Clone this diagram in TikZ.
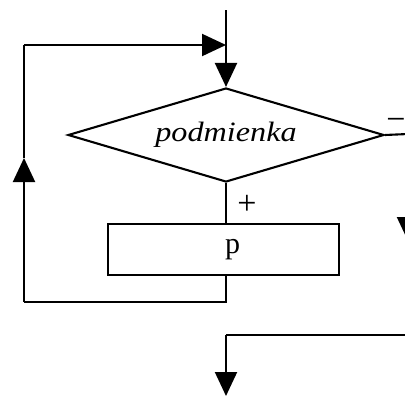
\documentclass[tikz,border=0pt]{standalone}
\usepackage{fontspec}
\setmainfont{Liberation Serif}
\usetikzlibrary{arrows.meta,shapes.geometric}
\tikzset{
  flow/.style={line width=2.1pt, line join=miter},
  arr/.style={flow, -{Triangle[length=24pt,width=22pt]}},
  decision/.style={diamond, draw, line width=2.1pt, aspect=3.36, minimum width=316pt, minimum height=94pt, inner sep=0pt, font=\fontsize{28}{30}\selectfont\itshape},
  process/.style={rectangle, draw, line width=2.1pt, minimum width=231pt, minimum height=51pt, inner sep=0pt, font=\fontsize{30}{30}\selectfont},
  lbl/.style={inner sep=0pt, font=\fontsize{34}{34}\selectfont}
}
\begin{document}
\begin{tikzpicture}[x=1pt,y=-1pt]
\useasboundingbox (0,0) rectangle (405,397);
\clip (0,0) rectangle (405,397);
\node[decision] (d) at (226,135) {\scalebox{1.15}[1]{podmienka}};
\node[process] (r) at (223.5,249.5) {\hspace*{18pt}p};
\coordinate (top) at (226,10);
\coordinate (lb) at (226,302);
\coordinate (ll) at (24,302);
\coordinate (lm) at (24,158);
\coordinate (lt) at (24,45);
\coordinate (lj) at (226,45);
\coordinate (re) at (408,134);
\coordinate (ra) at (408,241);
\coordinate (bs) at (412,335);
\coordinate (bc) at (226,335);
\coordinate (be) at (226,396);
\draw[arr] (top) -- (d.north);
\draw[flow] (d.south) -- (d.south |- r.north);
\draw[flow] (d.south |- r.south) -- (lb) -- (ll);
\draw[arr] (ll) -- (lm);
\draw[flow] (lm) -- (lt);
\draw[arr] (lt) -- (lj);
\draw[flow] (d.east) -- (re);
\draw[arr] (re) -- (ra);
\draw[flow] (bs) -- (bc);
\draw[arr] (bc) -- (be);
\node[lbl] (plus) at (247,205) {+};
\node[lbl] (minus) at (396,124) {\char"2212};
\end{tikzpicture}
\end{document}
